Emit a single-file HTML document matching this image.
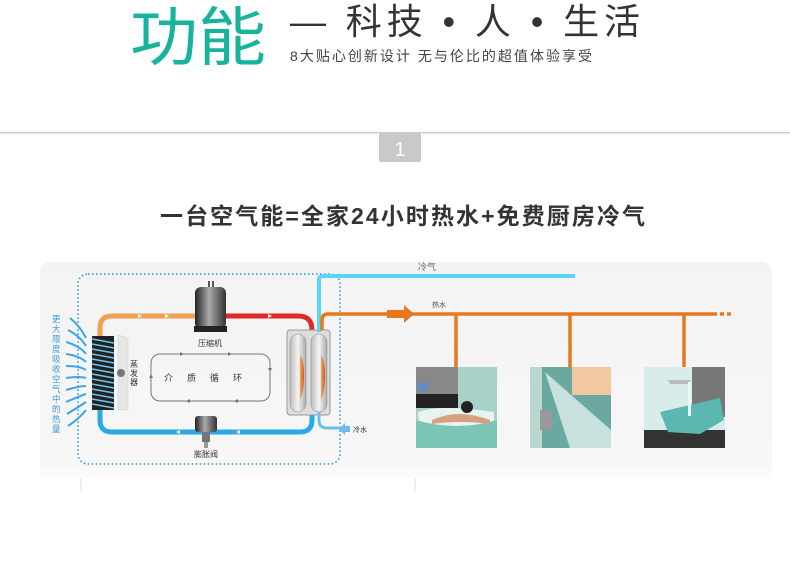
<!DOCTYPE html>
<html><head><meta charset="utf-8"><style>
html,body{margin:0;padding:0;background:#fff;width:790px;height:575px;overflow:hidden}
svg{display:block}
text{font-family:"Liberation Sans","Noto Sans CJK SC",sans-serif}
</style></head><body>
<svg width="790" height="575" viewBox="0 0 790 575" xmlns="http://www.w3.org/2000/svg">
<defs>
<linearGradient id="cmp" x1="0" x2="1"><stop offset="0" stop-color="#222"/><stop offset=".45" stop-color="#aaa"/><stop offset="1" stop-color="#333"/></linearGradient>
<linearGradient id="tank" x1="0" x2="1"><stop offset="0" stop-color="#bbb"/><stop offset=".5" stop-color="#f4f4f4"/><stop offset="1" stop-color="#aaa"/></linearGradient>
<linearGradient id="heat" x1="0" x2="1"><stop offset="0" stop-color="#e6b060"/><stop offset="1" stop-color="#e05020"/></linearGradient>
<linearGradient id="panel" x1="0" y1="0" x2="0" y2="1"><stop offset="0" stop-color="#f3f3f3"/><stop offset=".92" stop-color="#f7f7f7"/><stop offset="1" stop-color="#fff"/></linearGradient>
</defs>
<!-- header -->
<text x="130" y="60" font-size="64" fill="#17b39d" textLength="136" lengthAdjust="spacingAndGlyphs">功能</text>
<text x="290" y="34" font-size="36" fill="#333" textLength="350">— 科技 • 人 • 生活</text>
<text x="290" y="61" font-size="14" fill="#444" textLength="302">8大贴心创新设计 无与伦比的超值体验享受</text>
<rect x="0" y="132" width="790" height="1.5" fill="#ccc"/>
<rect x="379" y="133" width="42" height="29" rx="2" fill="#c9c9c9"/>
<text x="400" y="156" font-size="20" fill="#fff" text-anchor="middle">1</text>
<text x="160" y="224" font-size="23" fill="#333" font-weight="bold" textLength="485">一台空气能=全家24小时热水+免费厨房冷气</text>
<!-- panel -->
<rect x="40" y="262" width="732" height="220" rx="10" fill="url(#panel)"/>
<line x1="81" y1="478" x2="81" y2="492" stroke="#ddd"/>
<line x1="415" y1="478" x2="415" y2="492" stroke="#ddd"/>
<!-- dotted box -->
<rect x="78" y="274" width="262" height="190" rx="10" fill="none" stroke="#2a8fd0" stroke-width="1.5" stroke-dasharray="1.5 2.5"/>
<!-- loop pipes -->
<path d="M100 336 V328 Q100 316 112 316 H200" fill="none" stroke="#f0a050" stroke-width="5"/>
<path d="M220 316 H298 Q312 316 312 330 V336" fill="none" stroke="#e02828" stroke-width="5"/>
<path d="M100 405 V420 Q100 432 112 432 H300 Q312 432 312 420 V412" fill="none" stroke="#2aa8e8" stroke-width="5"/>
<g fill="#fff"><path d="M138 314l4 2-4 2z"/><path d="M165 314l4 2-4 2z"/><path d="M268 314l4 2-4 2z"/><path d="M180 430l-4 2 4 2z"/><path d="M240 430l-4 2 4 2z"/></g>
<!-- compressor -->
<rect x="208" y="281" width="2" height="6" fill="#555"/><rect x="212" y="281" width="2" height="6" fill="#555"/>
<rect x="195" y="287" width="31" height="42" rx="6" fill="url(#cmp)"/>
<rect x="194" y="326" width="33" height="6" fill="#222"/>
<text x="210" y="346" font-size="8" fill="#333" text-anchor="middle">压缩机</text>
<!-- expansion valve -->
<rect x="195" y="416" width="22" height="16" rx="3" fill="url(#cmp)"/>
<rect x="202" y="432" width="8" height="10" fill="#777"/>
<rect x="204" y="442" width="4" height="6" fill="#999"/>
<text x="206" y="457" font-size="8" fill="#333" text-anchor="middle">膨胀阀</text>
<!-- evaporator -->
<rect x="92" y="336" width="22" height="74" fill="#222"/>
<g stroke="#6cc8f0" stroke-width="1.5" fill="none">
<path d="M92 339 L114 343 M92 344 L114 348 M92 349 L114 353 M92 354 L114 358 M92 359 L114 363 M92 364 L114 368 M92 369 L114 373 M92 374 L114 378 M92 379 L114 383 M92 384 L114 388 M92 389 L114 393 M92 394 L114 398 M92 399 L114 403 M92 404 L114 408"/></g>
<path d="M118 335 L128 338 L128 410 L118 410 Z" fill="#e6e6e6" stroke="#ccc" stroke-width=".5"/>
<circle cx="121" cy="373" r="4" fill="#777"/>
<text font-size="8" fill="#333"><tspan x="130" y="367">蒸</tspan><tspan x="130" y="376">发</tspan><tspan x="130" y="385">器</tspan></text>
<!-- air arrows -->
<g stroke="#3aa8e8" stroke-width="2" fill="none">
<path d="M70 318 Q80 326 86 338"/><path d="M68 330 Q80 336 86 346"/><path d="M66 342 Q80 346 86 354"/><path d="M66 354 Q80 356 86 362"/><path d="M66 366 Q80 366 86 370"/><path d="M66 378 Q80 376 86 378"/><path d="M66 390 Q80 386 86 386"/><path d="M66 402 Q80 396 86 394"/><path d="M67 414 Q80 406 86 402"/><path d="M68 426 Q80 418 86 410"/></g>
<text font-size="8.5" fill="#3a9ad8"><tspan x="52" y="322">更</tspan><tspan x="52" y="332">大</tspan><tspan x="52" y="342">限</tspan><tspan x="52" y="352">度</tspan><tspan x="52" y="362">吸</tspan><tspan x="52" y="372">收</tspan><tspan x="52" y="382">空</tspan><tspan x="52" y="392">气</tspan><tspan x="52" y="402">中</tspan><tspan x="52" y="412">的</tspan><tspan x="52" y="422">热</tspan><tspan x="52" y="432">量</tspan></text>
<!-- medium cycle -->
<rect x="151" y="354" width="119" height="47" rx="9" fill="none" stroke="#777" stroke-width="1"/>
<g fill="#777"><path d="M180 352l4 2-4 2z"/><path d="M228 352l4 2-4 2z"/><path d="M268 368l2 4 2-4z"/><path d="M238 399l-4 2 4 2z"/><path d="M190 399l-4 2 4 2z"/><path d="M149 378l2-4 2 4z"/></g>
<text x="210" y="381" font-size="9" fill="#333" text-anchor="middle" letter-spacing="14">介质循环</text>
<!-- tank -->
<rect x="287" y="330" width="43" height="85" rx="3" fill="#ddd" stroke="#999" stroke-width="1"/>
<rect x="290" y="334" width="16" height="78" rx="8" fill="url(#tank)" stroke="#888" stroke-width=".5"/>
<rect x="311" y="334" width="16" height="78" rx="8" fill="url(#tank)" stroke="#888" stroke-width=".5"/>
<path d="M300 355 Q304 360 304 375 Q304 392 300 400 Z" fill="url(#heat)"/>
<path d="M321 355 Q325 360 325 375 Q325 392 321 400 Z" fill="url(#heat)"/>
<!-- cold air pipe -->
<path d="M319 332 V280 Q319 276 323 276 H575" fill="none" stroke="#5ad4f8" stroke-width="4"/>
<!-- cold water in -->
<path d="M319 412 V420 Q319 428 327 428 H340" fill="none" stroke="#6cc0f0" stroke-width="3"/>
<path d="M339 429 l6 -6 v3 h5 v6 h-5 v3z" fill="#6cb8f0"/>
<text x="353" y="432" font-size="7" fill="#333">冷水</text>
<text x="418" y="270" font-size="9" fill="#666">冷气</text>
<!-- hot water pipe -->
<path d="M322 330 V320 Q322 314 328 314 H717" fill="none" stroke="#e6781e" stroke-width="3.5"/>
<path d="M720 314 h4 M727 314 h4" stroke="#e6781e" stroke-width="3.5"/>
<path d="M387 310 h17 v-5 l10 9 -10 9 v-5 h-17z" fill="#e6781e"/>
<text x="432" y="307" font-size="7" fill="#555">热水</text>
<g stroke="#e6781e" stroke-width="3.5"><line x1="456" y1="314" x2="456" y2="368"/><line x1="570" y1="314" x2="570" y2="368"/><line x1="684" y1="314" x2="684" y2="368"/></g>
<!-- images -->
<rect x="416" y="367" width="81" height="81" fill="#a8d2c8"/>
<rect x="416" y="367" width="42" height="30" fill="#888"/>
<rect x="418" y="383" width="10" height="8" fill="#5a8fc0"/>
<rect x="416" y="394" width="42" height="14" fill="#222"/>
<path d="M418 412 Q440 404 494 412 L494 432 Q470 448 420 440 Z" fill="#e8f4f0"/>
<path d="M416 420 Q456 432 497 420 L497 448 H416 Z" fill="#7cc6b6"/>
<circle cx="467" cy="407" r="6" fill="#222"/><path d="M432 420 Q458 408 490 420 L490 424 Q460 420 432 424Z" fill="#d8a080"/>
<rect x="530" y="367" width="81" height="81" fill="#6aa8a0"/>
<rect x="572" y="367" width="39" height="28" fill="#f2c8a0"/>
<rect x="530" y="367" width="12" height="81" fill="#b8d8d0"/>
<path d="M545 372 L611 430 L611 448 L570 448 Z" fill="#dff0ee" opacity=".8"/>
<rect x="540" y="410" width="12" height="20" fill="#999"/>
<rect x="644" y="367" width="81" height="81" fill="#d8ecea"/>
<rect x="692" y="367" width="33" height="50" fill="#777"/>
<rect x="644" y="430" width="81" height="18" fill="#333"/>
<path d="M660 412 L720 398 L724 420 L700 434 L668 432 Z" fill="#5ab8b0"/>
<path d="M668 380 h22 v4 h-20 z" fill="#bbb"/><rect x="688" y="382" width="3" height="34" fill="#e8f6f4"/>
</svg>
</body></html>
